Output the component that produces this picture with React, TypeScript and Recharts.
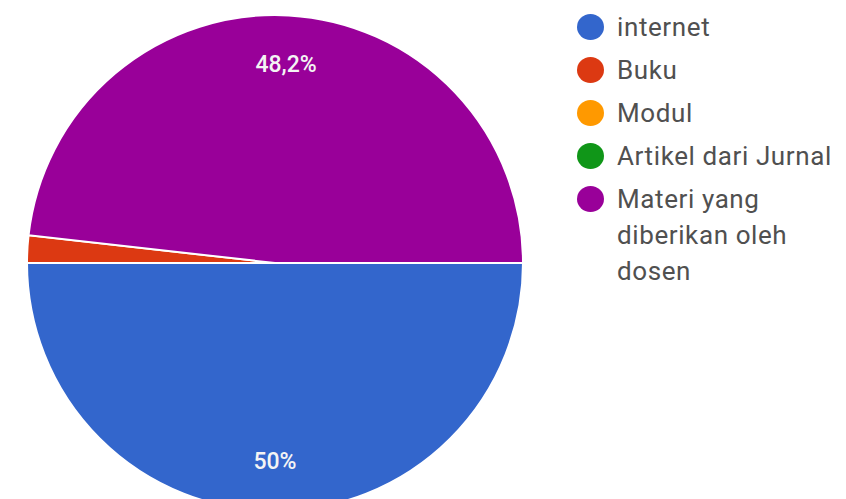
import React from 'react';
import { PieChart, Pie, Cell, Legend } from 'recharts';

// Responses (56 respondents)
const categories = ['internet', 'Buku', 'Modul', 'Artikel dari Jurnal', 'Materi yang diberikan oleh dosen'];
const counts = [28, 1, 0, 0, 27];
const colors = ['#3366cc', '#dc3912', '#ff9900', '#109618', '#990099'];

const total = counts.reduce((a, b) => a + b, 0);
const data = categories.map((name, i) => ({ name, value: counts[i] }));

const RADIAN = Math.PI / 180;

const renderLabel = (props: any) => {
  const { cx, cy, midAngle, outerRadius, value } = props;
  const pct = (value / total) * 100;
  if (pct < 5) return null;
  const r = outerRadius * 0.8;
  const x = cx + r * Math.cos(-midAngle * RADIAN);
  const y = cy + r * Math.sin(-midAngle * RADIAN);
  const text = (Math.round(pct * 10) / 10).toString().replace('.', ',') + '%';
  return (
    <text
      x={x}
      y={y}
      fill="#f4f4f4"
      textAnchor="middle"
      dominantBaseline="central"
      fontSize={23}
      fontFamily="Roboto, sans-serif"
      fontWeight={500}
    >
      {text}
    </text>
  );
};

const renderLegend = () => (
  <ul style={{ listStyle: 'none', margin: 0, padding: 0 }}>
    {categories.map((name, i) => (
      <li
        key={name}
        style={{
          display: 'flex',
          alignItems: 'flex-start',
          marginBottom: 7,
          lineHeight: '36px',
        }}
      >
        <span
          style={{
            display: 'inline-block',
            width: 27,
            height: 26,
            borderRadius: '50%',
            background: colors[i],
            marginTop: 5,
            marginRight: 13,
            flexShrink: 0,
          }}
        />
        <span
          style={{
            color: '#505050',
            fontSize: 26,
            letterSpacing: 0.6,
            fontFamily: 'Roboto, sans-serif',
            width: 229,
          }}
        >
          {name}
        </span>
      </li>
    ))}
  </ul>
);

const App = () => {
  return (
    <div style={{ position: 'absolute', left: 0, top: 0, background: '#fff' }}>
      <PieChart width={846} height={499}>
        <Pie
          data={data}
          dataKey="value"
          nameKey="name"
          cx={270}
          cy={258}
          outerRadius={248}
          startAngle={0}
          endAngle={-360}
          stroke="#fff"
          strokeWidth={2}
          label={renderLabel}
          labelLine={false}
          isAnimationActive={false}
        >
          {data.map((d, i) => (
            <Cell key={d.name} fill={colors[i]} />
          ))}
        </Pie>
        <Legend
          layout="vertical"
          align="right"
          verticalAlign="top"
          content={renderLegend}
          wrapperStyle={{ left: 577, top: 9, width: 269 }}
        />
      </PieChart>
    </div>
  );
};

export default App;
